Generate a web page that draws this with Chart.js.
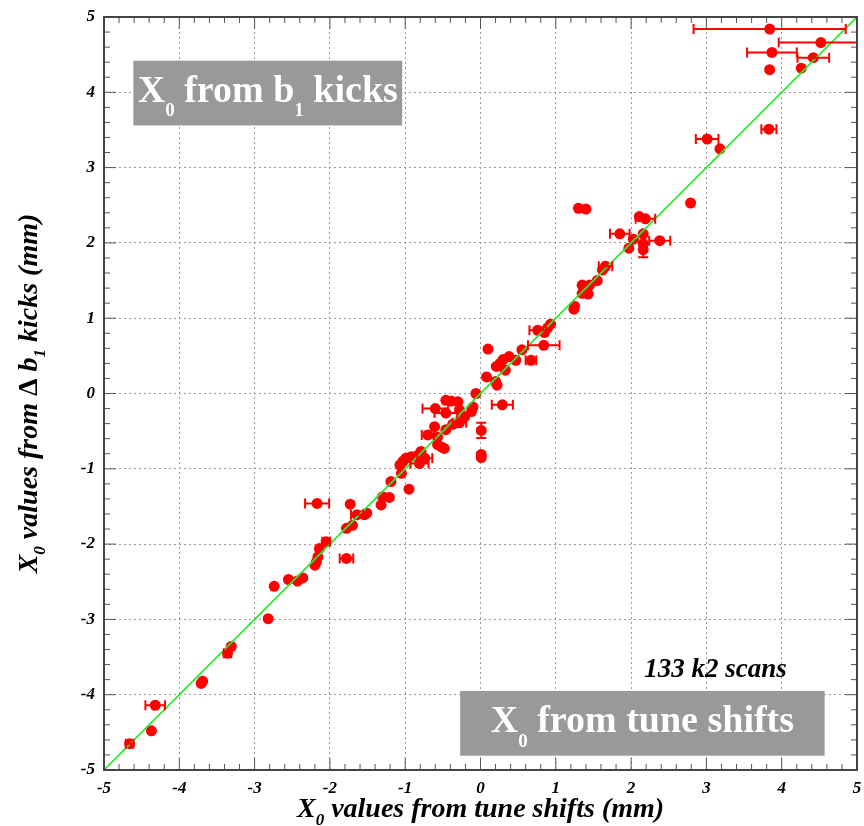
<!DOCTYPE html>
<html>
<head>
<meta charset="utf-8">
<script src="https://cdn.jsdelivr.net/npm/chart.js@4"></script>
<style>
  body { margin: 0; background: #fff; }
  #wrap { width: 864px; height: 826px; }
</style>
</head>
<body>
<div id="wrap"><canvas id="chart" width="864" height="826"></canvas></div>
<script>
// X0 from tune shifts (mm)
const xVals = [
  3.84, 4.52, 3.87, 4.42, 3.84, 4.26, 3.83, 3.01, 3.18, 2.79,
  1.30, 1.40, 2.11, 2.19, 1.85, 2.16, 2.03, 2.38, 2.16, 1.97,
  2.16, 1.66, 1.62, 1.55, 1.45, 1.35, 1.43, 1.35, 1.25, 1.24,
  0.93, 0.89, 0.76, 0.85, 0.84, 0.10, 0.55, 0.38, 0.30, 0.67,
  0.47, 0.21, 0.26, 0.33, 0.08, 0.20, 0.22, -0.06, 0.29, -0.46,
  -0.39, -0.30, -0.60, -0.46, -0.28, -0.10, -0.12, -0.21, -0.28, -0.37,
  0.01, -0.61, -0.46, -0.70, -0.57, -0.52, -0.48, -0.57, 0.01, 0.01,
  -0.79, -0.83, -0.74, -0.99, -1.07, -0.81, -1.05, -1.19, -0.95, -1.30,
  -1.21, -1.32, -2.17, -1.73, -1.51, -1.54, -1.64, -1.70, -1.78, -2.05,
  -2.14, -2.16, -1.78, -2.20, -2.18, -2.36, -2.43, -2.55, -2.74, -2.82,
  -3.31, -3.36, -3.71, -3.69, -4.32, -4.37, -4.66, -0.92, -1.03
];
// X0 from b1 kicks (mm)
const yVals = [
  4.84, 4.66, 4.53, 4.46, 4.30, 4.32, 3.51, 3.38, 3.25, 2.53,
  2.46, 2.45, 2.35, 2.32, 2.12, 2.12, 2.05, 2.03, 1.99, 1.93,
  1.91, 1.69, 1.64, 1.50, 1.44, 1.44, 1.32, 1.33, 1.16, 1.12,
  0.92, 0.87, 0.84, 0.81, 0.64, 0.59, 0.58, 0.49, 0.45, 0.44,
  0.44, 0.36, 0.40, 0.31, 0.22, 0.16, 0.11, 0.00, -0.15, -0.09,
  -0.10, -0.11, -0.20, -0.26, -0.22, -0.18, -0.24, -0.31, -0.39, -0.41,
  -0.49, -0.44, -0.48, -0.55, -0.58, -0.71, -0.73, -0.68, -0.81, -0.85,
  -0.77, -0.82, -0.86, -0.86, -0.95, -0.93, -1.06, -1.17, -1.27, -1.37,
  -1.38, -1.48, -1.46, -1.47, -1.59, -1.61, -1.61, -1.75, -1.79, -1.97,
  -2.06, -2.17, -2.19, -2.28, -2.24, -2.45, -2.49, -2.47, -2.56, -2.99,
  -3.36, -3.45, -3.85, -3.82, -4.14, -4.48, -4.65, -0.84, -0.90
];
// horizontal error (tune shift fit), 0 = not drawn
const xErrs = [
  1.01, 0.56, 0.33, 0.21, 0, 0, 0.10, 0.15, 0, 0,
  0, 0, 0, 0.13, 0.13, 0, 0, 0.14, 0, 0,
  0, 0.09, 0, 0, 0, 0, 0, 0, 0, 0,
  0, 0, 0.11, 0, 0.21, 0, 0, 0, 0, 0.07,
  0, 0, 0, 0, 0, 0, 0, 0, 0.14, 0,
  0, 0, 0.17, 0.15, 0, 0, 0, 0, 0.09, 0,
  0, 0, 0, 0.08, 0, 0, 0, 0, 0, 0,
  0, 0, 0.10, 0, 0, 0.12, 0, 0, 0, 0,
  0, 0, 0.16, 0, 0, 0, 0.08, 0, 0, 0.05,
  0, 0, 0.09, 0, 0, 0, 0, 0, 0, 0,
  0, 0.05, 0, 0, 0.13, 0, 0.05, 0, 0
];
// vertical error, only a couple of scans
const yErrs = xVals.map(() => 0);
yErrs[20] = 0.10;
yErrs[60] = 0.10;

const axisTicks = [-5, -4, -3, -2, -1, 0, 1, 2, 3, 4, 5];
const diagonal = [-5, 5];
const scanLabel = '133 k2 scans';

const points = xVals.map((x, i) => ({ x: x, y: yVals[i], xe: xErrs[i], ye: yErrs[i] }));

const serif = '"Liberation Serif", "DejaVu Serif", serif';

// text with subscripts: parts = [[text, isSub, upright], ...]
function drawRich(ctx, parts, x, y, size, style, color, subScale, subShift) {
  const fontOf = p => (p[2] ? 'bold' : style) + ' ' + (p[1] ? Math.round(size * subScale) : size) + 'px ' + serif;
  let w = 0;
  parts.forEach(p => { ctx.font = fontOf(p); w += ctx.measureText(p[0]).width; });
  let cx = x - w / 2;
  ctx.fillStyle = color;
  ctx.textAlign = 'left';
  ctx.textBaseline = 'alphabetic';
  parts.forEach(p => {
    ctx.font = fontOf(p);
    ctx.fillText(p[0], cx, p[1] ? y + size * subShift : y);
    cx += ctx.measureText(p[0]).width;
  });
}

const frameAndBars = {
  id: 'frameAndBars',
  afterDatasetsDraw(chart) {
    const { ctx, chartArea: a, scales: { x, y } } = chart;
    // error bars
    ctx.save();
    ctx.beginPath();
    ctx.rect(a.left, a.top, a.right - a.left, a.bottom - a.top);
    ctx.clip();
    ctx.strokeStyle = '#ff0000';
    ctx.lineWidth = 2;
    points.forEach(p => {
      const px = x.getPixelForValue(p.x), py = y.getPixelForValue(p.y);
      if (p.xe > 0) {
        const l = x.getPixelForValue(p.x - p.xe), r = x.getPixelForValue(p.x + p.xe);
        ctx.beginPath();
        ctx.moveTo(l, py); ctx.lineTo(r, py);
        ctx.moveTo(l, py - 5); ctx.lineTo(l, py + 5);
        ctx.moveTo(r, py - 5); ctx.lineTo(r, py + 5);
        ctx.stroke();
      }
      if (p.ye > 0) {
        const t = y.getPixelForValue(p.y + p.ye), b = y.getPixelForValue(p.y - p.ye);
        ctx.beginPath();
        ctx.moveTo(px, t); ctx.lineTo(px, b);
        ctx.moveTo(px - 5, t); ctx.lineTo(px + 5, t);
        ctx.moveTo(px - 5, b); ctx.lineTo(px + 5, b);
        ctx.stroke();
      }
    });
    ctx.restore();
  },
  afterDraw(chart) {
    const { ctx, chartArea: a, scales: { x, y } } = chart;
    ctx.save();
    // frame ticks on all four sides, major every 1, minor every 0.2
    ctx.strokeStyle = '#555';
    ctx.lineWidth = 1;
    for (let k = -25; k <= 25; k++) {
      const v = k / 5;
      const len = k % 5 === 0 ? 12 : 6;
      const px = x.getPixelForValue(v), py = y.getPixelForValue(v);
      ctx.beginPath();
      ctx.moveTo(px, a.bottom); ctx.lineTo(px, a.bottom - len);
      ctx.moveTo(px, a.top); ctx.lineTo(px, a.top + len);
      ctx.moveTo(a.left, py); ctx.lineTo(a.left + len, py);
      ctx.moveTo(a.right, py); ctx.lineTo(a.right - len, py);
      ctx.stroke();
    }
    ctx.lineWidth = 2;
    ctx.strokeStyle = '#444';
    ctx.strokeRect(a.left, a.top, a.right - a.left, a.bottom - a.top);

    // grey label boxes
    const boxes = [
      { x0: -4.61, x1: -1.04, y0: 4.42, y1: 3.56, parts: [['X', 0], ['0', 1], [' from b', 0], ['1', 1], [' kicks', 0]] },
      { x0: -0.27, x1: 4.57, y0: -3.95, y1: -4.81, parts: [['X', 0], ['0', 1], [' from tune shifts', 0]] }
    ];
    boxes.forEach(b => {
      const l = x.getPixelForValue(b.x0), r = x.getPixelForValue(b.x1);
      const t = y.getPixelForValue(b.y0), btm = y.getPixelForValue(b.y1);
      ctx.fillStyle = '#999999';
      ctx.fillRect(l, t, r - l, btm - t);
      drawRich(ctx, b.parts, (l + r) / 2, (t + btm) / 2 + 9, 38, 'bold', '#ffffff', 0.5, 0.38);
    });

    ctx.font = 'italic bold 27px ' + serif;
    ctx.fillStyle = '#000';
    ctx.textAlign = 'center';
    ctx.fillText(scanLabel, x.getPixelForValue(3.12), y.getPixelForValue(-3.76));

    // axis titles
    const mid = (a.left + a.right) / 2;
    drawRich(ctx, [['X', 0], ['0', 1], [' values from tune shifts (mm)', 0]],
      mid, 817, 28, 'italic bold', '#000', 0.62, 0.3);
    ctx.translate(37, (a.top + a.bottom) / 2);
    ctx.rotate(-Math.PI / 2);
    drawRich(ctx, [['X', 0], ['0', 1], [' values from ', 0], ['\u0394', 0, 1], [' b', 0], ['1', 1], [' kicks (mm)', 0]],
      0, 0, 28, 'italic bold', '#000', 0.62, 0.3);
    ctx.restore();
  }
};

const tickFont = { family: serif, size: 17, style: 'italic', weight: 'bold' };

new Chart(document.getElementById('chart'), {
  type: 'scatter',
  data: {
    datasets: [
      {
        type: 'line',
        data: diagonal.map(v => ({ x: v, y: v })),
        borderColor: '#2ee62e',
        borderWidth: 1.8,
        pointRadius: 0,
        order: 0
      },
      {
        data: points,
        backgroundColor: '#ff0000',
        borderWidth: 0,
        pointRadius: 5.5,
        pointHoverRadius: 5.5,
        order: 1
      }
    ]
  },
  options: {
    responsive: false,
    animation: false,
    events: [],
    layout: { padding: { top: 17, right: 7, left: 0, bottom: 0 } },
    plugins: { legend: { display: false }, tooltip: { enabled: false } },
    scales: {
      x: {
        type: 'linear',
        min: -5, max: 5,
        afterBuildTicks: s => { s.ticks = axisTicks.map(v => ({ value: v })); },
        afterFit: s => { s.height = 56; s.paddingLeft = 0; s.paddingRight = 0; },
        ticks: { font: tickFont, color: '#000', padding: 8, maxRotation: 0 },
        grid: { color: '#9a9a9a', lineWidth: 1, drawTicks: false },
        border: { display: false, dash: [2, 3] }
      },
      y: {
        type: 'linear',
        min: -5, max: 5,
        afterBuildTicks: s => { s.ticks = axisTicks.map(v => ({ value: v })); },
        afterFit: s => { s.width = 104; s.paddingTop = 0; s.paddingBottom = 0; },
        ticks: { font: tickFont, color: '#000', padding: 9 },
        grid: { color: '#9a9a9a', lineWidth: 1, drawTicks: false },
        border: { display: false, dash: [2, 3] }
      }
    }
  },
  plugins: [frameAndBars]
});
</script>
</body>
</html>
